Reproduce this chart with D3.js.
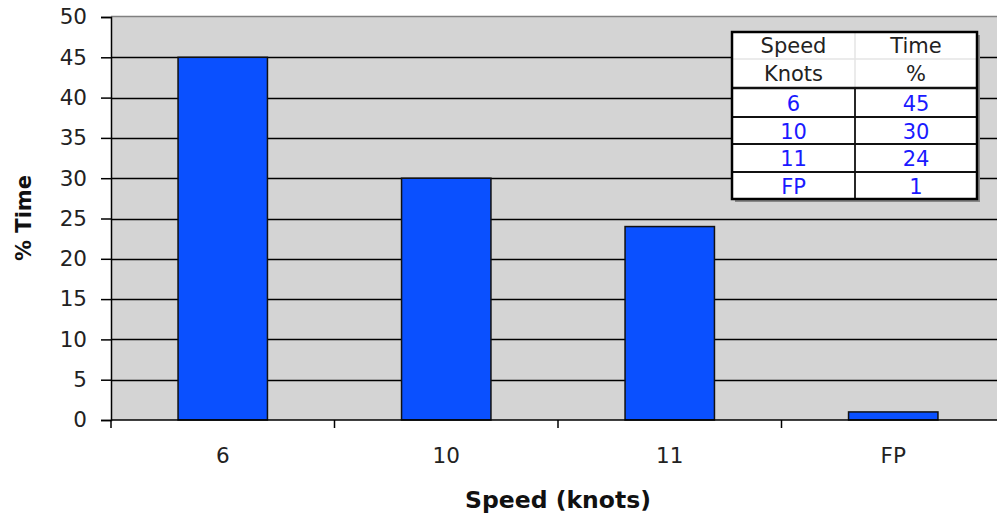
<!DOCTYPE html>
<html><head><meta charset="utf-8">
<script src="https://cdn.jsdelivr.net/npm/d3@7/dist/d3.min.js"></script>
<style>html,body{margin:0;padding:0;background:#fff;}svg{display:block;}</style>
</head><body>
<svg id="c" width="997" height="523"></svg>
<script>
const categories = ["6", "10", "11", "FP"];
const timePct = [45, 30, 24, 1];
const yTicks = [0, 5, 10, 15, 20, 25, 30, 35, 40, 45, 50];
const tableHeader1 = ["Speed", "Time"];
const tableHeader2 = ["Knots", "%"];

(function () {
const svg = d3.select("#c");
const font = "'DejaVu Sans', Verdana, sans-serif";
const pLeft = 111, pRight = 1005, pTop = 17, pBottom = 420;

const x = d3.scaleBand().domain(categories).range([pLeft, pRight]).padding(0);
const y = d3.scaleLinear().domain([0, 50]).range([pBottom, pTop]);

svg.append("rect").attr("x", pLeft).attr("y", pTop).attr("width", pRight - pLeft).attr("height", pBottom - pTop)
  .attr("fill", "#d4d4d4");
svg.append("line").attr("x1", pLeft).attr("x2", pRight).attr("y1", pTop - 0.5).attr("y2", pTop - 0.5)
  .attr("stroke", "#808080").attr("stroke-width", 1.5);

svg.append("g").selectAll("line").data(yTicks.filter(d => d > 0 && d < 50)).join("line")
  .attr("x1", pLeft).attr("x2", pRight)
  .attr("y1", d => Math.round(y(d)) + 0.5).attr("y2", d => Math.round(y(d)) + 0.5)
  .attr("stroke", "#000").attr("stroke-width", 1.3);

const bw = x.bandwidth() * 0.4;
svg.append("g").selectAll("rect").data(categories).join("rect")
  .attr("x", (d) => x(d) + (x.bandwidth() - bw) / 2)
  .attr("width", bw)
  .attr("y", (d, i) => y(timePct[i]))
  .attr("height", (d, i) => y(0) - y(timePct[i]))
  .attr("fill", "#0a50ff").attr("stroke", "#111").attr("stroke-width", 1.5);

const yAxis = d3.axisLeft(y).tickValues(yTicks).tickSize(10).tickPadding(14).tickFormat(d3.format("d"));
const gy = svg.append("g").attr("transform", `translate(${pLeft},0)`).call(yAxis);
gy.select(".domain").attr("stroke", "#000").attr("stroke-width", 1.5);
gy.selectAll(".tick line").attr("stroke", "#000").attr("stroke-width", 1.5);
gy.selectAll(".tick text").attr("font-family", font).attr("font-size", 21.5).attr("fill", "#222");

const gx = svg.append("g").attr("transform", `translate(0,${pBottom})`);
gx.append("line").attr("x1", pLeft).attr("x2", pRight).attr("stroke", "#000").attr("stroke-width", 1.5);
const bounds = categories.map(c => x(c)).concat([pRight]);
gx.selectAll("line.tk").data(bounds).join("line").attr("class", "tk")
  .attr("x1", d => d).attr("x2", d => d).attr("y1", 0).attr("y2", 8)
  .attr("stroke", "#000").attr("stroke-width", 1.5);
gx.selectAll("text").data(categories).join("text")
  .attr("x", d => x(d) + x.bandwidth() / 2).attr("y", 43)
  .attr("text-anchor", "middle").attr("font-family", font).attr("font-size", 21.5).attr("fill", "#222")
  .text(d => d);

svg.append("text").attr("x", 558).attr("y", 508).attr("text-anchor", "middle")
  .attr("font-family", font).attr("font-weight", "bold").attr("font-size", 23.5).attr("fill", "#111")
  .text("Speed (knots)");
svg.append("text").attr("transform", "translate(31,218) rotate(-90)").attr("text-anchor", "middle")
  .attr("font-family", font).attr("font-weight", "bold").attr("font-size", 21).attr("fill", "#111")
  .text("% Time");

const tx = 732, tw = 245, colX = 855, ty = 32, tb = 199;
const headerRows = [32, 59, 88];
const dataRowsY = [88, 117, 144, 172, 199];
const tg = svg.append("g");
tg.append("rect").attr("x", tx + 3).attr("y", ty + 3).attr("width", tw).attr("height", tb - ty)
  .attr("fill", "#888");
tg.append("rect").attr("x", tx).attr("y", ty).attr("width", tw).attr("height", tb - ty)
  .attr("fill", "#fff");
tg.append("line").attr("x1", tx).attr("x2", tx + tw).attr("y1", headerRows[1]).attr("y2", headerRows[1])
  .attr("stroke", "#e4e4e4").attr("stroke-width", 1.5);
tg.append("line").attr("x1", colX).attr("x2", colX).attr("y1", ty).attr("y2", headerRows[2])
  .attr("stroke", "#e4e4e4").attr("stroke-width", 1.5);
tg.selectAll("line.r").data(dataRowsY.slice(1, -1)).join("line").attr("class", "r")
  .attr("x1", tx).attr("x2", tx + tw).attr("y1", d => d).attr("y2", d => d)
  .attr("stroke", "#111").attr("stroke-width", 1.8);
tg.append("line").attr("x1", tx).attr("x2", tx + tw).attr("y1", 88).attr("y2", 88)
  .attr("stroke", "#111").attr("stroke-width", 2.5);
tg.append("line").attr("x1", colX).attr("x2", colX).attr("y1", 88).attr("y2", tb)
  .attr("stroke", "#111").attr("stroke-width", 1.8);
tg.append("rect").attr("x", tx).attr("y", ty).attr("width", tw).attr("height", tb - ty)
  .attr("fill", "none").attr("stroke", "#000").attr("stroke-width", 2.5);

const c1 = (tx + colX) / 2, c2 = (colX + tx + tw) / 2;
[[tableHeader1, 53], [tableHeader2, 81]].forEach(([row, yy]) => {
  tg.append("text").attr("x", c1).attr("y", yy).attr("text-anchor", "middle").attr("font-family", font)
    .attr("font-size", 21).attr("fill", "#222").text(row[0]);
  tg.append("text").attr("x", c2).attr("y", yy).attr("text-anchor", "middle").attr("font-family", font)
    .attr("font-size", 21).attr("fill", "#222").text(row[1]);
});
categories.forEach((c, i) => {
  const yy = (dataRowsY[i] + dataRowsY[i + 1]) / 2 + 8;
  tg.append("text").attr("x", c1).attr("y", yy).attr("text-anchor", "middle").attr("font-family", font)
    .attr("font-size", 21).attr("fill", "#1a1aff").text(c);
  tg.append("text").attr("x", c2).attr("y", yy).attr("text-anchor", "middle").attr("font-family", font)
    .attr("font-size", 21).attr("fill", "#1a1aff").text(timePct[i]);
});
})();
</script>
</body></html>
